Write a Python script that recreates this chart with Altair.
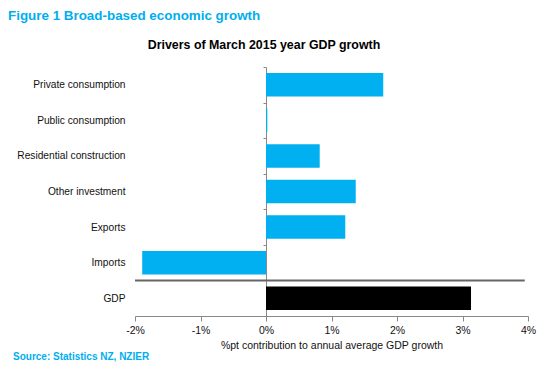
import altair as alt
import pandas as pd

categories = ["Private consumption", "Public consumption", "Residential construction",
              "Other investment", "Exports", "Imports", "GDP"]
values = [1.79, 0.02, 0.82, 1.37, 1.21, -1.89, 3.13]
bar_colors = ["#00B0F0", "#00B0F0", "#00B0F0", "#00B0F0", "#00B0F0", "#00B0F0", "#000000"]
x_ticks = [-2, -1, 0, 1, 2, 3, 4]

header = "Figure 1 Broad-based economic growth"
chart_title = "Drivers of March 2015 year GDP growth"
source = "Source: Statistics NZ, NZIER"
x_title = "%pt contribution to annual average GDP growth"

df = pd.DataFrame({"category": categories, "value": values, "color": bar_colors})

FONT = "Liberation Sans"

y_enc = alt.Y(
    "category:N",
    sort=categories,
    scale=alt.Scale(paddingInner=0, paddingOuter=0),
    axis=alt.Axis(
        title=None,
        offset=-131,
        domainColor="#888888",
        tickColor="#888888",
        tickSize=3,
        tickBand="extent",
        labelPadding=138,
        labelFont=FONT,
        labelFontSize=10.2,
        labelColor="#111111",
    ),
)

bars = alt.Chart(df).mark_bar(height={"band": 0.66}).encode(
    x=alt.X(
        "value:Q",
        scale=alt.Scale(domain=[-2, 4], nice=False),
        axis=alt.Axis(
            values=x_ticks,
            labelExpr="datum.value + '%'",
            labelFlush=False,
            grid=False,
            domainColor="#888888",
            tickColor="#888888",
            tickSize=5,
            labelFont=FONT,
            labelFontSize=10.5,
            labelColor="#111111",
            labelPadding=4,
            title=x_title,
            titleFont=FONT,
            titleFontSize=10.5,
            titleFontWeight="normal",
            titleColor="#111111",
            titlePadding=5,
        ),
    ),
    y=y_enc,
    color=alt.Color("color:N", scale=None),
)

sep = alt.Chart(pd.DataFrame({"k": [0]})).mark_rule(color="#666666", strokeWidth=2).encode(
    x=alt.X(datum=-2),
    x2=alt.X2(datum=3.95),
    y=alt.Y(datum="GDP", bandPosition=0),
)

def label(text, x, y, size, bold, color, align):
    return alt.Chart(pd.DataFrame({"t": [text]})).mark_text(
        font=FONT, fontSize=size, fontWeight="bold" if bold else "normal",
        color=color, align=align, baseline="alphabetic",
    ).encode(text="t:N", x=alt.value(x), y=alt.value(y))

t_header = label(header, -127, -47, 13.4, True, "#00AEEF", "left")
t_title = label(chart_title, 129, -18, 12.4, True, "#000000", "center")
t_source = label(source, -122, 293, 10, True, "#00AEEF", "left")

chart = alt.layer(bars, sep, t_header, t_title, t_source).properties(
    width=393,
    height=249,
    autosize=alt.AutoSizeParams(type="none"),
    padding={"left": 127, "top": 59, "right": 14, "bottom": 54},
).configure_view(stroke=None)

chart.save("out.html", embed_options={"renderer": "svg", "actions": False})
